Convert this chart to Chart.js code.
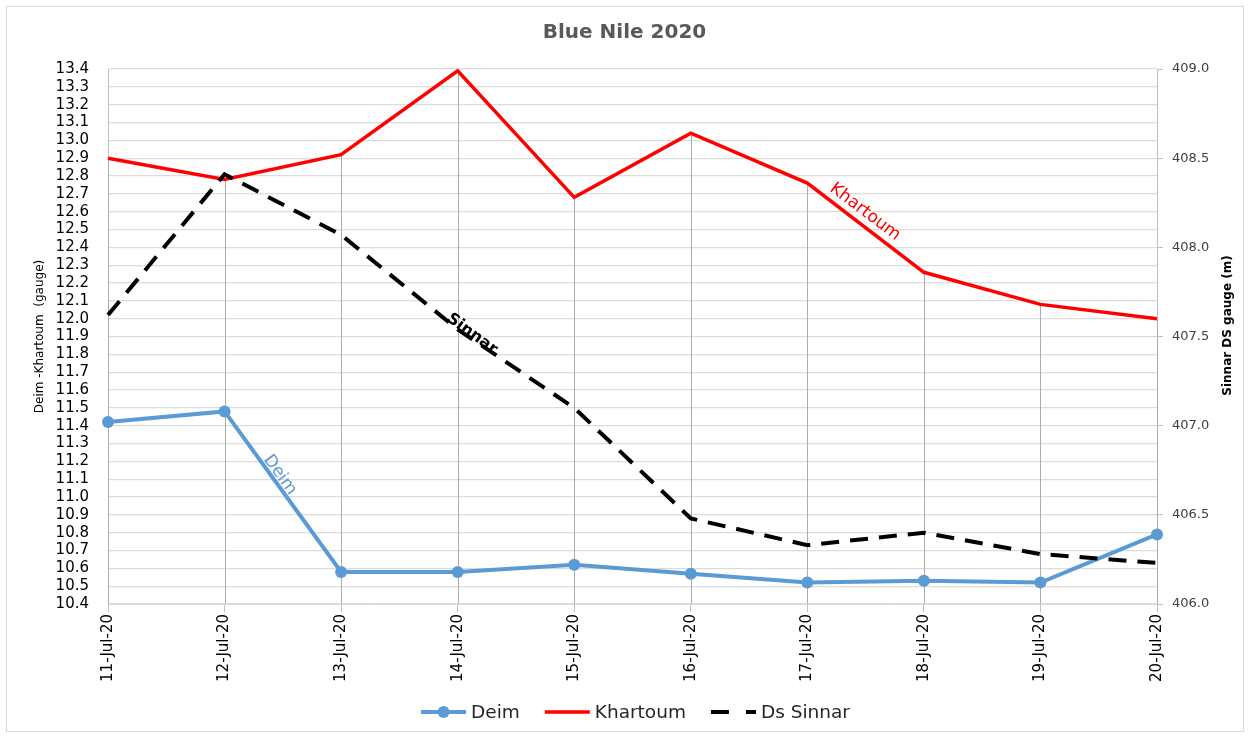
<!DOCTYPE html>
<html>
<head>
<meta charset="utf-8">
<script src="https://cdn.jsdelivr.net/npm/chart.js@4"></script>
<style>
  html, body { margin: 0; padding: 0; background: #fff; }
  #wrap { width: 1249px; height: 736px; position: relative; }
</style>
</head>
<body>
<div id="wrap"><canvas id="c" width="1249" height="736"></canvas></div>
<script>
const categories = ['11-Jul-20','12-Jul-20','13-Jul-20','14-Jul-20','15-Jul-20','16-Jul-20','17-Jul-20','18-Jul-20','19-Jul-20','20-Jul-20'];
const deim = [11.42, 11.48, 10.58, 10.58, 10.62, 10.57, 10.52, 10.53, 10.52, 10.79];
const khartoum = [12.90, 12.78, 12.92, 13.39, 12.68, 13.04, 12.76, 12.26, 12.08, 12.00];
const dsSinnar = [407.62, 408.41, 408.07, 407.54, 407.10, 406.48, 406.33, 406.40, 406.28, 406.23];

const leftMin = 10.4, leftMax = 13.4, leftStep = 0.1;
const rightMin = 406.0, rightMax = 409.0, rightStep = 0.5;

const titleText = 'Blue Nile 2020';
const leftAxisTitle = 'Deim -Khartoum  (gauge)';
const rightAxisTitle = 'Sinnar DS gauge (m)';
const seriesNames = ['Deim', 'Khartoum', 'Ds Sinnar'];

const FONT = '"DejaVu Sans", Verdana, sans-serif';
const BLUE = '#5b9bd5', RED = '#ff0000', BLACK = '#000000';

const extras = {
  id: 'extras',
  beforeDatasetsDraw(chart) {
    const ctx = chart.ctx, x = chart.scales.x, y = chart.scales.y, area = chart.chartArea;
    ctx.save();
    ctx.strokeStyle = '#ababab';
    ctx.lineWidth = 1;
    khartoum.forEach((v, i) => {
      const px = Math.round(x.getPixelForValue(i)) + 0.5;
      ctx.beginPath();
      ctx.moveTo(px, y.getPixelForValue(v));
      ctx.lineTo(px, area.bottom);
      ctx.stroke();
    });
    ctx.restore();
  },
  afterDraw(chart) {
    const ctx = chart.ctx, area = chart.chartArea;
    ctx.save();
    ctx.strokeStyle = '#d9d9d9';
    ctx.lineWidth = 1;
    ctx.strokeRect(6.5, 6.5, 1237, 725);

    ctx.fillStyle = '#000';
    ctx.textAlign = 'center';
    ctx.textBaseline = 'middle';
    ctx.save();
    ctx.translate(40, (area.top + area.bottom) / 2);
    ctx.rotate(-Math.PI / 2);
    ctx.font = '12px ' + FONT;
    ctx.fillText(leftAxisTitle, 0, 0);
    ctx.restore();
    ctx.save();
    ctx.translate(1228, (area.top + area.bottom) / 2 - 11);
    ctx.rotate(-Math.PI / 2);
    ctx.font = 'bold 12px ' + FONT;
    ctx.fillText(rightAxisTitle, 0, 0);
    ctx.restore();

    const lab = (txt, cx, cy, ang, color, bold, size) => {
      ctx.save();
      ctx.translate(cx, cy);
      ctx.rotate(ang * Math.PI / 180);
      ctx.fillStyle = color;
      ctx.font = (bold ? 'bold ' : '') + size + 'px ' + FONT;
      ctx.textAlign = 'center';
      ctx.textBaseline = 'middle';
      ctx.fillText(txt, 0, 0);
      ctx.restore();
    };
    lab('Deim', 280, 475, 54, BLUE, false, 17);
    lab('Sinnar', 472, 334, 36, BLACK, true, 16);
    lab('Khartoum', 865, 212, 37, RED, false, 17);

    ctx.font = '18.5px ' + FONT;
    ctx.textAlign = 'left';
    ctx.textBaseline = 'middle';
    const sw = 45, tg = 5, ig = 25;
    const widths = seriesNames.map(n => sw + tg + ctx.measureText(n).width);
    const total = widths.reduce((a, b) => a + b, 0) + ig * (widths.length - 1);
    let lx = (area.left + area.right) / 2 + 3 - total / 2;
    const ly = 712;
    seriesNames.forEach((n, i) => {
      ctx.save();
      ctx.beginPath();
      if (i === 0) { ctx.strokeStyle = BLUE; ctx.lineWidth = 4; }
      else if (i === 1) { ctx.strokeStyle = RED; ctx.lineWidth = 3.5; }
      else { ctx.strokeStyle = BLACK; ctx.lineWidth = 4; ctx.setLineDash([18, 17]); }
      ctx.moveTo(lx, ly);
      ctx.lineTo(lx + sw, ly);
      ctx.stroke();
      if (i === 0) {
        ctx.setLineDash([]);
        ctx.fillStyle = BLUE;
        ctx.beginPath();
        ctx.arc(lx + sw / 2, ly, 6, 0, Math.PI * 2);
        ctx.fill();
      }
      ctx.restore();
      ctx.fillStyle = '#262626';
      ctx.fillText(n, lx + sw + tg, ly + 1);
      lx += widths[i] + ig;
    });
    ctx.restore();
  }
};

new Chart(document.getElementById('c'), {
  type: 'line',
  data: {
    labels: categories,
    datasets: [
      { label: seriesNames[0], data: deim, yAxisID: 'y', borderColor: BLUE, backgroundColor: BLUE,
        borderWidth: 4, pointRadius: 6, pointHoverRadius: 6, pointBackgroundColor: BLUE, pointBorderWidth: 0,
        tension: 0, order: 2 },
      { label: seriesNames[1], data: khartoum, yAxisID: 'y', borderColor: RED, backgroundColor: RED,
        borderWidth: 3.5, pointRadius: 0, tension: 0, order: 1 },
      { label: seriesNames[2], data: dsSinnar, yAxisID: 'y2', borderColor: BLACK, backgroundColor: BLACK,
        borderWidth: 4, borderDash: [18, 11], pointRadius: 0, tension: 0, order: 0 }
    ]
  },
  options: {
    responsive: false,
    animation: false,
    devicePixelRatio: 1,
    layout: { padding: { left: 0, right: 0, top: 0, bottom: 42 } },
    plugins: {
      legend: { display: false },
      tooltip: { enabled: false },
      title: {
        display: true, text: titleText, color: '#595959',
        font: { family: FONT, size: 20, weight: 'bold' },
        padding: { top: 21, bottom: 24 }
      }
    },
    scales: {
      x: {
        type: 'category',
        offset: false,
        grid: { display: true, drawOnChartArea: false, drawTicks: true, tickLength: 8, color: '#bfbfbf' },
        border: { display: true, color: '#d9d9d9' },
        ticks: { color: '#000', font: { family: FONT, size: 15 }, minRotation: 90, maxRotation: 90, padding: 2, autoSkip: false },
        afterFit(s) { s.height = 90; }
      },
      y: {
        position: 'left',
        min: leftMin, max: leftMax,
        grid: { color: '#dcdcdc', lineWidth: 1.3, drawTicks: false },
        border: { display: true, color: '#bfbfbf' },
        ticks: { stepSize: leftStep, color: '#000', font: { family: FONT, size: 15 }, padding: 19,
          callback: v => Number(v).toFixed(1), autoSkip: false },
        afterFit(s) { s.width = 108; }
      },
      y2: {
        position: 'right',
        min: rightMin, max: rightMax,
        grid: { drawOnChartArea: false, drawTicks: true, tickLength: 6, color: '#bfbfbf' },
        border: { display: true, color: '#bfbfbf' },
        ticks: { stepSize: rightStep, color: '#404040', font: { family: FONT, size: 13 }, padding: 9,
          callback: v => Number(v).toFixed(1) },
        afterFit(s) { s.width = 92; }
      }
    }
  },
  plugins: [extras]
});
</script>
</body>
</html>
